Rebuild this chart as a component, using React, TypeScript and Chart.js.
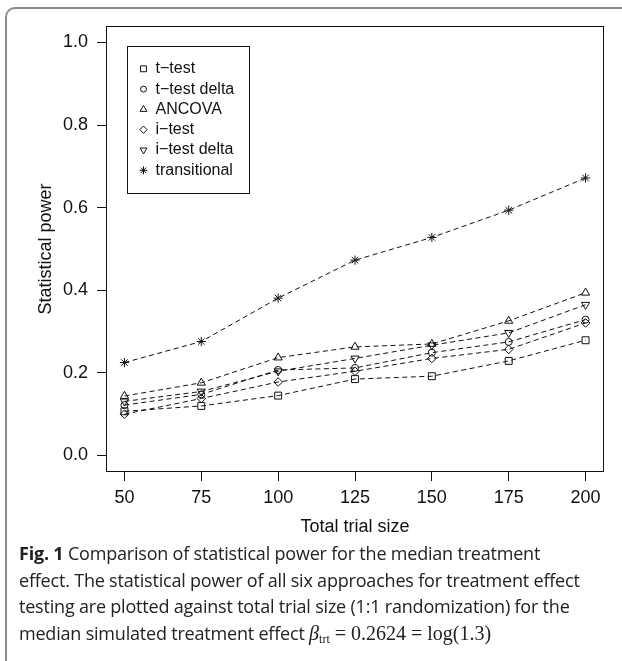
import React, { useEffect, useRef } from "react";
import { Chart, registerables } from "chart.js";
import { drawPoint } from "chart.js/helpers";

Chart.register(...registerables);

// ---- data ----
const trialSizes = [50, 75, 100, 125, 150, 175, 200];
const tTest = [0.107, 0.12, 0.145, 0.185, 0.192, 0.229, 0.279];
const tTestDelta = [0.122, 0.148, 0.207, 0.212, 0.249, 0.275, 0.329];
const ancova = [0.144, 0.176, 0.237, 0.263, 0.27, 0.326, 0.394];
const iTest = [0.1, 0.138, 0.178, 0.204, 0.235, 0.257, 0.321];
const iTestDelta = [0.131, 0.155, 0.204, 0.235, 0.267, 0.297, 0.365];
const transitional = [0.225, 0.276, 0.381, 0.473, 0.528, 0.594, 0.672];
const seriesLabels = ["t−test", "t−test delta", "ANCOVA", "i−test", "i−test delta", "transitional"];
const xTicks = [50, 75, 100, 125, 150, 175, 200];
const yTicks = [0, 0.2, 0.4, 0.6, 0.8, 1.0];

const seriesValues = [tTest, tTestDelta, ancova, iTest, iTestDelta, transitional];
const seriesStyles: { pointStyle: any; radius: number; rotation: number }[] = [
  { pointStyle: "rect", radius: 4.9, rotation: 0 },
  { pointStyle: "circle", radius: 3.5, rotation: 0 },
  { pointStyle: "triangle", radius: 4.7, rotation: 0 },
  { pointStyle: "rectRot", radius: 4.3, rotation: 0 },
  { pointStyle: "triangle", radius: 4.7, rotation: 180 },
  { pointStyle: "star", radius: 4.6, rotation: 0 },
];

const SANS = '"Liberation Sans", Arial, Helvetica, sans-serif';
const INK = "#111";

const framePlugin = {
  id: "rFrame",
  afterDraw(chart: any) {
    const { ctx, chartArea } = chart;
    const l = Math.round(chartArea.left) + 0.5;
    const t = Math.round(chartArea.top) + 0.5;
    const r = Math.round(chartArea.right) - 0.5;
    const b = Math.round(chartArea.bottom) - 0.5;
    ctx.save();
    ctx.strokeStyle = INK;
    ctx.lineWidth = 1;
    ctx.strokeRect(l, t, r - l, b - t);
    ctx.restore();
  },
};

const legendPlugin = {
  id: "rLegend",
  afterDatasetsDraw(chart: any) {
    const { ctx, chartArea } = chart;
    const bx = Math.round(chartArea.left + 21) + 0.5;
    const by = Math.round(chartArea.top + 20) + 0.5;
    const bw = 122;
    const bh = 147;
    ctx.save();
    ctx.fillStyle = "#fff";
    ctx.fillRect(bx, by, bw, bh);
    ctx.strokeStyle = INK;
    ctx.lineWidth = 1;
    ctx.strokeRect(bx, by, bw, bh);
    chart.data.datasets.forEach((ds: any, i: number) => {
      const y = by + 22.3 + i * 20.3;
      ctx.strokeStyle = INK;
      ctx.fillStyle = "rgba(0,0,0,0)";
      ctx.lineWidth = 1;
      drawPoint(
        ctx,
        { pointStyle: ds.pointStyle, radius: ds.pointRadius * 0.85, rotation: ds.pointRotation || 0, borderWidth: 1 } as any,
        bx + 16,
        y
      );
      ctx.fillStyle = INK;
      ctx.font = `16px ${SANS}`;
      ctx.textBaseline = "middle";
      ctx.textAlign = "left";
      ctx.fillText(ds.label, bx + 28, y);
    });
    ctx.restore();
  },
};

function PowerChart() {
  const ref = useRef<HTMLCanvasElement | null>(null);
  useEffect(() => {
    if (!ref.current) return;
    const datasets = seriesValues.map((vals, i) => ({
      label: seriesLabels[i],
      data: trialSizes.map((x, j) => ({ x, y: vals[j] })),
      borderColor: INK,
      borderWidth: 1,
      borderDash: [5, 3.5],
      fill: false,
      tension: 0,
      pointStyle: seriesStyles[i].pointStyle,
      pointRadius: seriesStyles[i].radius,
      pointRotation: seriesStyles[i].rotation,
      pointBorderColor: INK,
      pointBackgroundColor: "rgba(0,0,0,0)",
      pointBorderWidth: 1,
      clip: false as any,
    }));
    const chart = new Chart(ref.current, {
      type: "line",
      data: { datasets },
      options: {
        animation: false,
        responsive: false,
        maintainAspectRatio: false,
        events: [],
        layout: { padding: { top: 26, right: 18, left: 0, bottom: 0 } },
        plugins: {
          legend: { display: false },
          tooltip: { enabled: false },
          title: { display: false },
        },
        scales: {
          x: {
            type: "linear",
            min: 44,
            max: 206,
            afterBuildTicks: (s: any) => {
              s.ticks = xTicks.map((v) => ({ value: v }));
            },
            afterFit: (s: any) => {
              s.height = 88;
            },
            ticks: {
              callback: (v: any) => String(v),
              font: { family: SANS, size: 18 },
              color: INK,
              padding: 6,
              maxRotation: 0,
              autoSkip: false,
            },
            grid: { display: true, drawOnChartArea: false, drawTicks: true, tickLength: 9, color: INK, lineWidth: 1 },
            border: { display: false },
            title: {
              display: true,
              text: "Total trial size",
              font: { family: SANS, size: 18 },
              color: INK,
              padding: { top: 0, bottom: 22 },
            },
          },
          y: {
            type: "linear",
            min: -0.04,
            max: 1.04,
            afterBuildTicks: (s: any) => {
              s.ticks = yTicks.map((v) => ({ value: v }));
            },
            afterFit: (s: any) => {
              s.width = 106;
            },
            ticks: {
              callback: (v: any) => Number(v).toFixed(1),
              font: { family: SANS, size: 18 },
              color: INK,
              padding: 9,
              autoSkip: false,
            },
            grid: { display: true, drawOnChartArea: false, drawTicks: true, tickLength: 9, color: INK, lineWidth: 1 },
            border: { display: false },
            title: {
              display: true,
              text: "Statistical power",
              font: { family: SANS, size: 18 },
              color: INK,
              padding: { top: 35, bottom: 0 },
            },
          },
        },
      },
      plugins: [framePlugin, legendPlugin],
    });
    return () => chart.destroy();
  }, []);
  return <canvas ref={ref} width={622} height={560} style={{ display: "block", position: "absolute", left: 0, top: 0 }} />;
}

export default function App() {
  const capFont = '"Open Sans", "Noto Sans", sans-serif';
  const lineStyle: React.CSSProperties = { whiteSpace: "nowrap", height: 26.7 };
  return (
    <div style={{ position: "absolute", left: 0, top: 0, width: 622, height: 661, overflow: "hidden", background: "#fff" }}>
      <div
        style={{
          position: "absolute",
          left: 5,
          top: 7,
          width: 700,
          height: 800,
          borderTop: "2px solid #8a8a8a",
          borderLeft: "2px solid #8a8a8a",
          borderTopLeftRadius: 10,
          boxSizing: "border-box",
        }}
      />
      <PowerChart />
      <div
        style={{
          position: "absolute",
          left: 19,
          top: 540,
          fontFamily: capFont,
          fontSize: 18,
          lineHeight: "26.7px",
          color: "#222",
          letterSpacing: "-0.2px",
        }}
      >
        <div style={lineStyle}>
          <b>Fig. 1</b> Comparison of statistical power for the median treatment
        </div>
        <div style={lineStyle}>effect. The statistical power of all six approaches for treatment effect</div>
        <div style={lineStyle}>testing are plotted against total trial size (1:1 randomization) for the</div>
        <div style={lineStyle}>
          median simulated treatment effect{" "}
          <span style={{ fontFamily: '"Liberation Serif", "DejaVu Serif", serif', fontSize: 20, letterSpacing: 0 }}>
            <i>β</i>
            <sub style={{ fontSize: 12, verticalAlign: "-3px" }}>trt</sub> = 0.2624 = log(1.3)
          </span>
        </div>
      </div>
    </div>
  );
}
